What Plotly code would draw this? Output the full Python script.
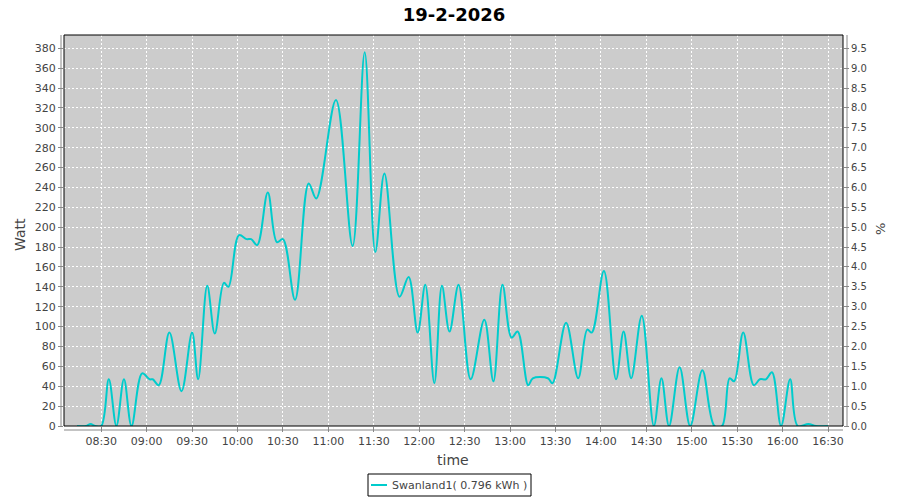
import plotly.graph_objects as go

# readings for 19-2-2026 (time of day, Watt)
times = [
    "08:14", "08:20", "08:23", "08:26", "08:30", "08:35", "08:40", "08:45", "08:50",
    "08:57", "09:02", "09:04", "09:08", "09:15", "09:23", "09:30", "09:34", "09:40",
    "09:45", "09:51", "09:54", "10:01", "10:06", "10:09", "10:13", "10:20", "10:26",
    "10:30", "10:38", "10:47", "10:52", "11:05", "11:16", "11:24", "11:31", "11:37",
    "11:47", "11:53", "11:59", "12:04", "12:10", "12:15", "12:20", "12:26", "12:34",
    "12:43", "12:49", "12:55", "13:01", "13:05", "13:12", "13:15", "13:25", "13:28",
    "13:37", "13:45", "13:51", "13:54", "14:02", "14:10", "14:15", "14:20", "14:27",
    "14:35", "14:40", "14:45", "14:52", "14:59", "15:07", "15:15", "15:20", "15:25",
    "15:28", "15:34", "15:41", "15:45", "15:49", "15:53", "15:59", "16:05", "16:10",
    "16:17", "16:22", "16:30",
]
watts = [
    0, 0, 2, 0, 0, 47, 0, 47, 0,
    53, 47, 47, 41, 94, 35, 94, 47, 141,
    93, 144, 140, 192, 188, 188, 182, 235, 185,
    188, 127, 244, 229, 328, 181, 376, 175, 254,
    130, 150, 94, 142, 43, 141, 95, 142, 47,
    107, 45, 142, 89, 95, 41, 48, 48, 43,
    104, 48, 97, 94, 156, 47, 95, 48, 111,
    0, 48, 0, 59, 0, 56, 0, 0, 48,
    45, 94, 41, 47, 47, 54, 0, 47, 0,
    2, 0, 0,
]

day = "2026-02-19"
title_text = "19-2-2026"
series_name = "Swanland1"
total_kwh = "0.796"
watt_per_percent = 40

x_vals = [day + " " + t for t in times]
percent = [w / watt_per_percent for w in watts]

# the page body has an 8px margin, so work in page pixels minus 8
OFF = 8
FW, FH = 900 - OFF, 500 - OFF
L, R, T, B = 64 - OFF, 843 - OFF, 35 - OFF, 426 - OFF
W, H = R - L, B - T


def px_x(p):
    return (p - OFF - L) / W


def px_y(p):
    return (B - (p - OFF)) / H


grey_txt = "#444444"
axis_grey = "#888888"
line_col = "#00CCCC"
y_top = 393.4

fig = go.Figure()
fig.add_trace(go.Scatter(
    x=x_vals, y=watts, mode="lines",
    line=dict(color=line_col, width=2, shape="spline", smoothing=1.0),
    name=series_name, showlegend=False, hoverinfo="x+y",
))
# same series on the percent axis, kept invisible so the right axis is drawn
fig.add_trace(go.Scatter(
    x=x_vals, y=percent, mode="lines", yaxis="y2",
    line=dict(width=0), opacity=0, showlegend=False, hoverinfo="skip",
))

fig.update_layout(
    width=FW, height=FH,
    margin=dict(l=L, r=FW - R, t=T, b=FH - B),
    paper_bgcolor="white",
    plot_bgcolor="#CCCCCC",
    font=dict(family="DejaVu Sans", size=11, color=grey_txt),
    title=dict(text="<b>" + title_text + "</b>", x=0.5, xanchor="center",
               y=1 - (15 - OFF) / FH, yanchor="middle",
               font=dict(family="DejaVu Sans", size=18, color="black")),
    xaxis=dict(
        type="date",
        range=[day + " 08:05:24", day + " 16:39:54"],
        tick0=day + " 08:30", dtick=30 * 60 * 1000, tickformat="%H:%M",
        showgrid=True, gridcolor="white", griddash="2px,2px", gridwidth=1,
        ticks="outside", ticklen=5, tickcolor=axis_grey,
        showline=False, zeroline=False,
        tickfont=dict(size=11, color=grey_txt),
        fixedrange=True,
    ),
    yaxis=dict(
        range=[0, y_top], dtick=20, tick0=0,
        showgrid=True, gridcolor="white", griddash="2px,2px", gridwidth=1,
        ticks="outside", ticklen=5, tickcolor=axis_grey,
        showline=False, zeroline=False,
        tickfont=dict(size=11, color=grey_txt),
        fixedrange=True,
    ),
    yaxis2=dict(
        overlaying="y", side="right",
        range=[0, y_top / watt_per_percent], dtick=0.5, tick0=0, tickformat=".1f",
        showgrid=False, zeroline=False, showline=False,
        ticks="outside", ticklen=5, tickcolor=axis_grey,
        tickfont=dict(size=10, color=grey_txt),
        fixedrange=True,
    ),
    showlegend=False,
)

shapes = [
    # plot outline
    dict(type="rect", xref="paper", yref="paper", x0=0, x1=1, y0=0, y1=1,
         line=dict(color="black", width=1)),
    # offset axis lines
    dict(type="line", xref="paper", yref="paper", x0=px_x(61), x1=px_x(61), y0=0, y1=1,
         line=dict(color=axis_grey, width=1)),
    dict(type="line", xref="paper", yref="paper", x0=px_x(847), x1=px_x(847), y0=0, y1=1,
         line=dict(color=axis_grey, width=1)),
    dict(type="line", xref="paper", yref="paper", x0=0, x1=1, y0=px_y(430), y1=px_y(430),
         line=dict(color=axis_grey, width=1)),
    # legend box and line sample
    dict(type="rect", xref="paper", yref="paper",
         x0=px_x(368), x1=px_x(531), y0=px_y(496), y1=px_y(474),
         line=dict(color="black", width=1), fillcolor="white"),
    dict(type="line", xref="paper", yref="paper",
         x0=px_x(371), x1=px_x(387), y0=px_y(485), y1=px_y(485),
         line=dict(color=line_col, width=2)),
]
fig.update_layout(shapes=shapes)

annotations = [
    dict(text="Watt", xref="paper", yref="paper", x=px_x(20), y=px_y(235),
         xanchor="center", yanchor="middle",
         textangle=-90, showarrow=False, font=dict(size=14, color=grey_txt)),
    dict(text="%", xref="paper", yref="paper", x=px_x(880), y=px_y(229),
         xanchor="center", yanchor="middle",
         textangle=-90, showarrow=False, font=dict(size=13, color=grey_txt)),
    dict(text="time", xref="paper", yref="paper", x=px_x(453), y=px_y(460),
         xanchor="center", yanchor="middle",
         showarrow=False, font=dict(size=14, color=grey_txt)),
    dict(text=series_name + "( " + total_kwh + " kWh )", xref="paper", yref="paper",
         x=px_x(390), y=px_y(485), xanchor="left", yanchor="middle",
         showarrow=False, font=dict(size=11, color=grey_txt)),
]
fig.update_layout(annotations=annotations)

fig.write_html("out.html")
